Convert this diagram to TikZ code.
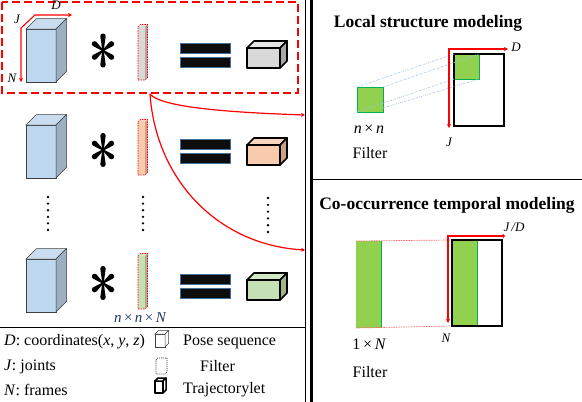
\documentclass[tikz,border=0pt]{standalone}
\usepackage{fontspec}
\setmainfont{Liberation Serif}
\usetikzlibrary{arrows.meta}
\definecolor{poseF}{HTML}{BDD7EE}
\definecolor{poseT}{HTML}{C9DCF0}
\definecolor{poseS}{HTML}{9DAFC3}
\definecolor{grayF}{HTML}{D9D9D9}
\definecolor{grayT}{HTML}{E4E4E4}
\definecolor{grayS}{HTML}{A8A8A8}
\definecolor{salF}{HTML}{F8CBAD}
\definecolor{salT}{HTML}{F9D5BE}
\definecolor{salS}{HTML}{C9A08A}
\definecolor{grnF}{HTML}{C5E0B4}
\definecolor{grnT}{HTML}{D2E8C4}
\definecolor{grnS}{HTML}{9DB58E}
\definecolor{leaf}{HTML}{92D050}
\definecolor{leafline}{HTML}{00B050}
\definecolor{dotblue}{HTML}{9DC3E6}
\definecolor{navy}{HTML}{1F3864}
\definecolor{barline}{HTML}{41719C}
\newcommand{\cuboid}[9]{%
  \filldraw[fill=#6,#9] (#1,#2) rectangle ++(#3,#4);
  \filldraw[fill=#7,#9] (#1,#2) -- ++(#5,-#5) -- ++(#3,0) -- ++(-#5,#5) -- cycle;
  \filldraw[fill=#8,#9] (#1+#3,#2) -- ++(#5,-#5) -- ++(0,#4) -- ++(-#5,#5) -- cycle;
}
\newcommand{\redsil}[5]{% x y w h d : dashed red silhouette
  \draw[reddash] (#1,#2) -- ++(#5,-#5) -- ++(#3,0) -- ++(0,#4) -- ++(-#5,#5) -- ++(-#3,0) -- cycle;
}
\newcommand{\astarm}[2]{% angle, length
  \fill[rotate=#1] (-0.7,0) -- (-2.7,-#2+2.7) arc (180:360:2.7) -- (0.7,0) -- cycle;
}
\tikzset{
  thinedge/.style={draw=black!75,line width=0.5pt},
  trajedge/.style={draw=black,line width=1.7pt,line join=round},
  baredge/.style={draw=none},
  reddash/.style={draw=red,line width=0.7pt,dash pattern=on 1.5pt off 1pt},
  eqbar/.style={fill=black!95,draw=barline,line width=0.6pt},
  axis/.style={draw=red,line width=1.1pt},
  lbl/.style={inner sep=0pt,font=\fontsize{13}{15}\selectfont\itshape},
  legtxt/.style={inner sep=0pt,anchor=west,font=\fontsize{16}{19}\selectfont},
  ttl/.style={inner sep=0pt,font=\fontsize{17.5}{20}\selectfont\bfseries},
  curve/.style={draw=red,line width=1.2pt,-{Stealth[length=4pt,width=4pt]}},
  asterisk/.pic={\astarm{0}{17}\astarm{180}{17}\astarm{52}{13.5}\astarm{-52}{13.5}\astarm{128}{13.5}\astarm{-128}{13.5}
     \fill (0,0) circle (2);}
}
\begin{document}
\begin{tikzpicture}[x=1pt,y=-1pt]
\useasboundingbox (0,0) rectangle (582,402);
% separators
\draw[line width=0.8pt] (305,0) -- (305,402);
\draw[line width=2.5pt] (311.5,0) -- (311.5,402);
\draw[line width=1.2pt] (0,327.5) -- (305,327.5);
\draw[line width=1pt] (312,179.5) -- (582,179.5);
% red dashed box
\draw[red,line width=1.6pt,dash pattern=on 8pt off 4pt] (2,2) rectangle (298,93);
% rows
\foreach \y/\ay/\fy/\ey/\ty/\fc/\tc/\sc in {29/50.5/27/43/48/grayF/grayT/grayS, 125/150/122/139/145/salF/salT/salS, 259/283/256/274/280/grnF/grnT/grnS}{
  \cuboid{26}{\y}{30}{53}{10.5}{poseF}{poseT}{poseS}{thinedge}
  \pic at (103,\ay) {asterisk};
  \cuboid{138}{\fy}{7}{53}{2.5}{\fc}{\tc}{\sc}{baredge}
  \redsil{138}{\fy}{7}{53}{2.5}
  \filldraw[eqbar] (180,\ey) rectangle ++(50,10);
  \filldraw[eqbar] (180,\ey+14) rectangle ++(50,10);
  \cuboid{247}{\ty}{33}{20}{7}{\fc}{\tc}{\sc}{trajedge}
}
% dots
\foreach \i in {0,...,5}{
  \fill (48,197+\i*6.6) circle (1.3);
  \fill (143,197+\i*6.6) circle (1.3);
  \fill (268,198+\i*6.8) circle (1.3);
}
% axes row 1
\draw[axis,{Stealth[length=4pt,width=4pt]}-{Stealth[length=4pt,width=4pt]}] (21,82) -- (21,28) -- (35,15) -- (72,15);
\node[lbl] (lD) at (56,5) {D};
\node[lbl] (lJ) at (17,19) {J};
\node[lbl] (lN) at (12,78) {N};
\node[lbl,text=navy,font=\fontsize{15}{17}\selectfont\itshape] (nnN) at (140,318) {n\,\upshape×\,\itshape n\,\upshape×\,\itshape N};
% legend
\node[legtxt] (leg1) at (4,342) {\textit{D}: coordinates(\textit{x}, \textit{y}, \textit{z})};
\node[legtxt] (leg2) at (4,367) {\textit{J}: joints};
\node[legtxt] (leg3) at (4,390) {\textit{N}: frames};
\cuboid{155}{334}{10}{13}{3.5}{white}{white}{white}{thinedge}
\draw[black!85,line width=0.7pt,dash pattern=on 1pt off 1pt] (156,360) -- ++(2,-2) -- ++(9,0) -- ++(0,14) -- ++(-2,2) -- ++(-9,0) -- cycle;
\cuboid{155}{381}{8}{12}{3}{white}{white}{white}{draw=black,line width=1.5pt,line join=round}
\node[legtxt] (leg4) at (183,342) {Pose sequence};
\node[legtxt] (leg5) at (200,366) {Filter};
\node[legtxt] (leg6) at (183,390) {Trajectorylet};
% red connectors
\coordinate (src) at (150,94);
\coordinate (dst1) at (305,115);
\coordinate (dst2) at (305,250);
\draw[curve] (src) .. controls (160,106) and (215,112) .. (dst1);
\draw[curve] (src) .. controls (156,180) and (218,245) .. (dst2);
% local structure panel
\node[ttl] (t1) at (428,23) {Local structure modeling};
\filldraw[fill=leaf,draw=leafline,line width=0.8pt] (357,87) rectangle (383,112);
\fill[leaf] (454,54) rectangle (479,79);
\draw[leafline,line width=0.8pt] (454,79) -- (479,79) -- (479,54);
\draw[line width=1.6pt] (454,54) rectangle (504,126);
\foreach \a/\b in {{357,87}/{454,54},{383,87}/{479,54},{357,112}/{454,79},{383,108}/{479,79}}
  \draw[dotblue,line width=0.7pt,dash pattern=on 1.5pt off 1.2pt on 0.5pt off 1.2pt] (\a) -- (\b);
\draw[axis,{Stealth[length=4pt,width=4pt]}-{Stealth[length=4pt,width=4pt]}] (449,128) -- (449,49) -- (508,49);
\node[lbl] (rD) at (516,47) {D};
\node[lbl] (rJ) at (449,142) {J};
\node[lbl,font=\fontsize{16}{18}\selectfont\itshape] (nn) at (369,129) {n\,\upshape×\,\itshape n};
\node[lbl,font=\fontsize{16}{18}\selectfont] (f1) at (370,153) {Filter};
% co-occurrence panel
\node[ttl] (t2) at (447,205) {Co-occurrence temporal modeling};
\fill[leaf] (356,241) rectangle (381,328);
\draw[leafline,line width=0.8pt] (381,241) -- (381,328);
\draw[red!60,line width=0.7pt,dash pattern=on 1.5pt off 1pt] (356,241) -- (452,240);
\draw[red!60,line width=0.7pt,dash pattern=on 1.5pt off 1pt] (356,328) -- (452,326);
\fill[leaf] (452,240) rectangle (477,326);
\draw[leafline,line width=0.8pt] (477,240) -- (477,326);
\draw[line width=1.6pt] (452,240) rectangle (502,326);
\draw[axis,{Stealth[length=4pt,width=4pt]}-{Circle[length=3.5pt]}] (448,323) -- (448,236) -- (505,236);
\node[lbl] (rJD) at (514,227) {J\,/D};
\node[lbl] (rN) at (446,338) {N};
\node[lbl,font=\fontsize{16}{18}\selectfont] (oneN) at (369,344) {1\,×\,\itshape N};
\node[lbl,font=\fontsize{16}{18}\selectfont] (f2) at (370,372) {Filter};
\end{tikzpicture}
\end{document}
